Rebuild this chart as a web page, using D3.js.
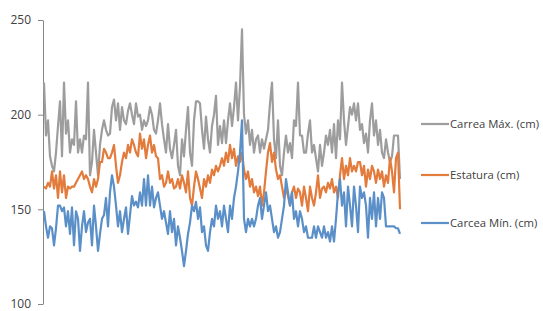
<!DOCTYPE html>
<html>
<head>
<meta charset="utf-8">
<script src="https://cdn.jsdelivr.net/npm/d3@7"></script>
<style>
  body { margin: 0; background: #fff; }
  text { font-family: "Open Sans", sans-serif; fill: #404040; }
</style>
</head>
<body>
<div id="chart"></div>
<script>
// series, one value per sample
var carreaMax = [
  217,189,197,178,173,170,180,194,207,178,217,190,197,180,187,184,207,180,187,180,189,187,217,168,175,192,180,168,184,192,197,192,189,190,204,
  208,197,206,192,204,197,195,202,206,200,195,206,199,200,192,197,194,197,204,200,192,190,197,206,195,187,180,195,182,177,184,192,173,168,187,178,
  192,204,180,173,197,207,207,206,192,182,199,187,180,194,200,210,184,194,185,197,185,197,206,194,204,217,197,215,245,200,190,197,184,192,180,187,
  189,180,187,182,187,192,206,217,187,177,197,173,168,180,189,180,185,177,197,194,217,189,189,180,180,190,197,180,184,177,170,184,173,180,189,184,
  192,180,195,177,197,187,217,197,184,194,204,200,206,197,206,192,195,185,190,180,197,206,189,197,184,192,180,177,187,180,175,178,189,189,189,166
]
var estatura = [
  162,161,164,162,170,161,168,156,170,159,168,156,162,161,162,162,164,166,168,170,166,168,166,162,159,166,162,166,175,175,182,180,177,177,180,
  184,173,164,168,175,180,177,184,180,187,184,180,178,190,182,187,177,184,189,180,184,178,177,166,168,162,164,170,164,166,161,162,166,161,168,164,
  159,170,156,152,162,170,166,161,156,166,162,168,164,171,168,173,170,173,177,173,180,175,184,177,182,173,178,175,180,171,166,170,162,166,159,162,
  157,162,152,159,170,180,185,175,180,171,166,168,162,156,161,157,152,159,162,156,161,159,152,162,156,149,162,156,152,159,168,156,161,162,159,164,
  161,166,159,162,156,168,177,166,173,168,177,170,173,170,175,175,168,173,162,171,166,173,170,164,171,166,170,162,168,164,177,170,159,177,180,150
]
var carceaMin = [
  149,141,135,141,140,131,140,152,152,149,151,141,149,137,151,131,149,145,128,141,149,138,143,145,131,152,141,128,137,145,147,156,141,159,168,
  162,152,141,149,138,145,151,137,147,157,152,154,151,159,152,166,152,168,152,162,151,156,159,152,145,149,143,137,149,138,145,131,141,135,128,120,
  128,137,143,152,149,154,145,151,138,141,131,128,138,145,141,152,145,149,141,152,145,138,152,145,156,162,170,180,197,145,138,145,141,145,141,145,
  152,156,145,152,159,149,152,145,138,141,135,138,145,152,166,159,152,159,145,149,141,149,145,138,141,135,135,135,141,135,141,138,135,141,135,138,
  133,141,133,145,159,166,152,159,141,162,152,141,162,152,138,162,156,159,152,135,156,145,159,141,156,145,159,156,141,141,141,141,141,140,140,137
]
var seriesNames = ["Carrea Máx. (cm)", "Estatura (cm)", "Carcea Mín. (cm)"]
var seriesColors = ["#9d9d9d", "#e27b3c", "#5b8fc8"]
var yTicks = [100, 150, 200, 250]

var width = 543, height = 311
var margin = { top: 20, left: 43, bottom: 7 }

var svg = d3.select("#chart")
  .append("svg")
  .attr("width", width)
  .attr("height", height)

var x = d3.scaleLinear()
  .domain([0, carreaMax.length - 1])
  .range([44, 400])

var y = d3.scaleLinear()
  .domain([100, 250])
  .range([height - margin.bottom, margin.top])

// y axis
var yAxis = svg.append("g")
  .attr("transform", "translate(" + margin.left + ",0)")
  .call(d3.axisLeft(y).tickValues(yTicks).tickSize(5).tickSizeOuter(0).tickPadding(7))
yAxis.select(".domain").attr("stroke", "#868686")
yAxis.selectAll(".tick line").attr("stroke", "#868686")
yAxis.selectAll(".tick text")
  .style("font-size", "12px")
  .attr("fill", "#404040")

var line = d3.line()
  .x(function (d, i) { return x(i) })
  .y(function (d) { return y(d) })

var data = [carreaMax, estatura, carceaMin]

svg.selectAll(".serie")
  .data(data)
  .enter()
  .append("path")
  .attr("class", "serie")
  .attr("fill", "none")
  .attr("stroke", function (d, i) { return seriesColors[i] })
  .attr("stroke-width", 2.2)
  .attr("stroke-linejoin", "round")
  .attr("d", line)

// legend
var legendY = [124, 175, 223]
var legend = svg.selectAll(".legend")
  .data(seriesNames)
  .enter()
  .append("g")
  .attr("class", "legend")
  .attr("transform", function (d, i) { return "translate(421," + legendY[i] + ")" })

legend.append("line")
  .attr("x1", 0).attr("x2", 28)
  .attr("stroke", function (d, i) { return seriesColors[i] })
  .attr("stroke-width", 2.2)

legend.append("text")
  .attr("x", 29)
  .attr("dy", "0.35em")
  .style("font-size", "11.3px")
  .text(function (d) { return d })
</script>
</body>
</html>
